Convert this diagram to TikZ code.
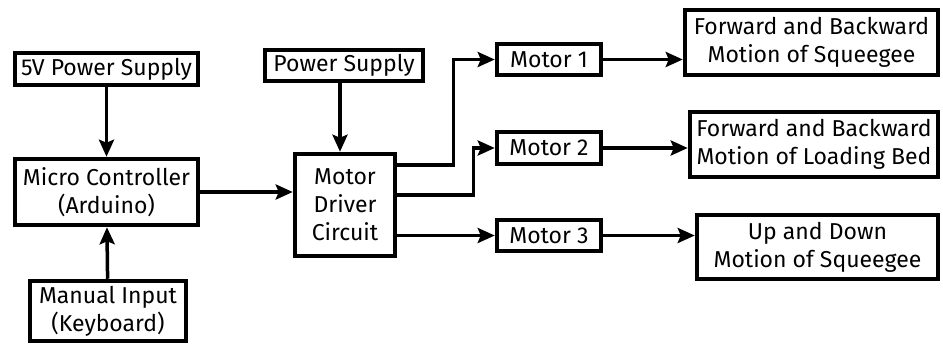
\documentclass[tikz,border=0pt]{standalone}
\usepackage{fontspec}
\setmainfont{Fira Sans}
\usetikzlibrary{arrows.meta}

\begin{document}
\begin{tikzpicture}[x=1pt,y=-1pt,
	block/.style={draw,line width=4.5pt,align=center,inner sep=0pt,font=\fontsize{23}{28}\selectfont},
	arr/.style={line width=3.5pt,-{Stealth[length=17pt,width=15pt,inset=3pt]}}]
	\useasboundingbox (0,0) rectangle (943,348);
	
	%left column
	\node[block,minimum width=183pt,minimum height=32pt] (ps5) at (106.5,69) {5V Power Supply};
	\node[block,minimum width=183pt,minimum height=66pt] (mc) at (106.5,192) {Micro Controller\\(Arduino)};
	\node[block,minimum width=156pt,minimum height=60pt] (mi) at (108,311) {Manual Input\\(Keyboard)};
	
	%driver and its supply
	\node[block,minimum width=158pt,minimum height=31pt] (ps) at (344,65.5) {Power Supply};
	\node[block,minimum width=100pt,minimum height=102pt] (md) at (345,205) {Motor\\Driver\\Circuit};
	
	%motors
	\node[block,minimum width=104pt,minimum height=31pt] (m1) at (549,59.5) {Motor 1};
	\node[block,minimum width=104pt,minimum height=32pt] (m2) at (549,148) {Motor 2};
	\node[block,minimum width=104pt,minimum height=31pt] (m3) at (549,235.5) {Motor 3};
	
	%motions
	\node[block,minimum width=253pt,minimum height=65pt] (o1) at (811.5,42.5) {Forward and Backward\\Motion of Squeegee};
	\node[block,minimum width=248pt,minimum height=65pt] (o2) at (814,144.5) {Forward and Backward\\Motion of Loading Bed};
	\node[block,minimum width=241pt,minimum height=64pt] (o3) at (817.5,247) {Up and Down\\Motion of Squeegee};
	
	%arrows
	\draw[arr] (ps5) -- (mc);
	\draw[arr] (mi) -- (mc);
	\draw[arr] (mc.east) -- (mc.east -| md.west);
	\draw[arr] ([xshift=-4pt]ps.south) -- ([xshift=-4pt]ps.south |- md.north);
	\draw[arr] ([yshift=40pt]md.east) -- ++(56,0) |- (m1.west);
	\draw[arr] ([yshift=10pt]md.east) -- ++(76,0) |- (m2.west);
	\draw[arr] (m3.west -| md.east) -- (m3.west);
	\draw[arr] (m1.east) -- (m1.east -| o1.west);
	\draw[arr] (m2.east) -- (m2.east -| o2.west);
	\draw[arr] (m3.east) -- (m3.east -| o3.west);
\end{tikzpicture}
\end{document}
